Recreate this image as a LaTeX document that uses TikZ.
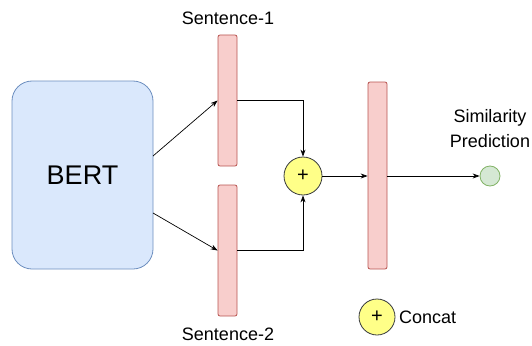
\documentclass[tikz,border=0pt]{standalone}
\usepackage{fontspec}
\setmainfont{Liberation Sans}
\usetikzlibrary{arrows.meta}
\definecolor{bluef}{HTML}{DAE8FC}
\definecolor{blued}{HTML}{6C8EBF}
\definecolor{redf}{HTML}{F8CECC}
\definecolor{redd}{HTML}{B85450}
\definecolor{yelf}{HTML}{FFFF88}
\definecolor{yeld}{HTML}{36393D}
\definecolor{grnf}{HTML}{D5E8D4}
\definecolor{grnd}{HTML}{82B366}
\begin{document}
\begin{tikzpicture}[x=1pt,y=-1pt,
  bertbox/.style={draw=blued,fill=bluef,rounded corners=20pt,line width=0.8pt,minimum width=141pt,minimum height=188pt,inner sep=0pt,font=\fontsize{27}{30}\selectfont},
  barbox/.style={draw=redd,fill=redf,rounded corners=2pt,line width=0.8pt,minimum width=19pt,inner sep=0pt},
  concatc/.style={circle,draw=yeld,fill=yelf,line width=0.8pt,minimum size=38pt,inner sep=0pt,font=\fontsize{20}{22}\selectfont},
  outc/.style={circle,draw=grnd,fill=grnf,line width=0.8pt,minimum size=20pt,inner sep=0pt},
  lbl/.style={font=\fontsize{18}{21}\selectfont,align=center,inner sep=0pt},
  conn/.style={-{Stealth[length=7pt,width=5pt]},line width=0.7pt}]
\useasboundingbox (0,0) rectangle (532,345);
\node[bertbox] (bert) at (82.5,175) {BERT};
\node[barbox,minimum height=131pt] (s1) at (227.5,100.5) {};
\node[barbox,minimum height=131pt] (s2) at (227.5,250.5) {};
\node[barbox,minimum height=187pt] (s3) at (377.5,175.5) {};
\node[concatc] (cat) at (303,176) {+};
\node[outc] (out) at (490,176) {};
\node[lbl] (l1) at (228,18) {Sentence-1};
\node[lbl] (l2) at (228,334) {Sentence-2};
\node[lbl] (lsp) at (490,129) {Similarity\\[4pt]Prediction};
\node[concatc,minimum size=36pt] (leg) at (377,317) {+};
\node[lbl,anchor=west] (legt) at (399,317) {Concat};
\coordinate (b1) at (153,156);
\coordinate (b2) at (153,213);
\draw[conn] (b1) -- (s1.west);
\draw[conn] (b2) -- (s2.west);
\draw[conn] (s1.east) -| (cat.north);
\draw[conn] (s2.east) -| (cat.south);
\draw[conn] (cat.east) -- (cat.east -| s3.west);
\draw[conn] (s3.east |- out) -- (out.west);
\end{tikzpicture}
\end{document}
